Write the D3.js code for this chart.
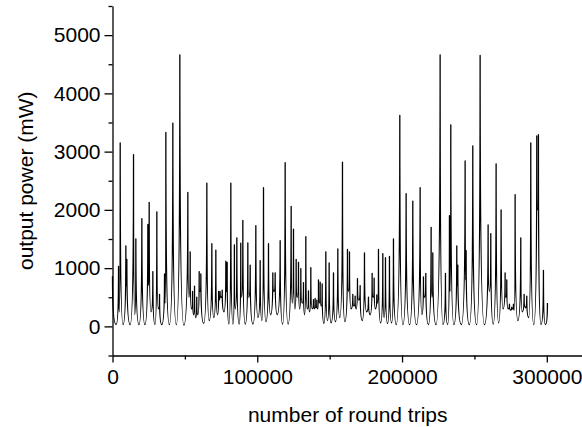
<!DOCTYPE html>
<html>
<head>
<meta charset="utf-8">
<script src="https://cdn.jsdelivr.net/npm/d3@7"></script>
<style>
  html, body { margin: 0; padding: 0; background: #fff; }
  svg { display: block; }
  text { font-family: "Liberation Sans", Arial, sans-serif; fill: #000; }
</style>
</head>
<body>
<svg id="chart" width="582" height="427"></svg>
<script>
// Round trips (x) and output power in mW (y)
const rounds = [
  0, 2500, 4167, 4700, 5318, 7300, 9231, 9600, 9920, 12200,
  14526, 15400, 16137, 18300, 20280, 22400, 24424, 24900, 25345, 26600,
  27877, 29300, 30640, 31600, 32482, 34000, 35934, 36300, 36855, 39300,
  41689, 44100, 46524, 49300, 52048, 52800, 53660, 54500, 55300, 56000,
  56653, 57500, 58200, 59000, 59875, 60400, 61027, 63000, 65170, 66800,
  68624, 70000, 71386, 72500, 73300, 73600, 74300, 75100, 75800, 77000,
  78292, 78700, 79200, 80400, 81745, 83200, 84200, 84800, 85888, 87500,
  88600, 89200, 90032, 91700, 93485, 94100, 95100, 97000, 99010, 100500,
  102003, 103200, 104305, 106000, 107757, 109200, 110750, 111500, 112362, 113800,
  115815, 117500, 119268, 121300, 123412, 124200, 125022, 126000, 126865, 127600,
  128475, 129300, 130090, 131000, 131929, 132700, 133543, 134500, 135380, 136200,
  136995, 137900, 138833, 139400, 139986, 140500, 141139, 141800, 142287, 142900,
  143440, 144100, 144820, 146000, 147355, 148500, 149655, 151000, 152645, 154000,
  155642, 157000, 158860, 160500, 162314, 163000, 163700, 164800, 166001, 166800,
  167600, 168300, 169220, 170100, 171064, 172500, 174054, 175500, 176817, 178000,
  179351, 180000, 180732, 181600, 182576, 183100, 183722, 185200, 186720, 187600,
  188557, 190000, 191319, 192800, 194081, 196000, 198460, 200600, 202831, 205200,
  207438, 210000, 212500, 213700, 214800, 215500, 216416, 218200, 220097, 220700,
  221250, 223500, 226312, 228300, 229993, 231500, 232756, 233100, 233680, 235800,
  237824, 238200, 238515, 241000, 243577, 243900, 244268, 246500, 248874, 251500,
  253936, 256900, 259461, 260300, 261305, 263000, 264986, 266700, 268439, 269800,
  271202, 271700, 272355, 273200, 274193, 275000, 275808, 276400, 276954, 277500,
  278108, 280000, 282024, 283000, 284323, 285200, 286167, 287500, 288930, 291000,
  293073, 293600, 294220, 296000, 297673, 299000, 300435
];
const power = [
  860, 30, 1030, 250, 3150, 30, 1380, 700, 1150, 30,
  2950, 200, 1500, 30, 1850, 30, 1750, 700, 2130, 250,
  940, 30, 1966, 300, 550, 30, 900, 400, 3330, 30,
  3490, 30, 4660, 20, 2300, 500, 1280, 300, 600, 200,
  690, 150, 500, 200, 940, 600, 900, 50, 2460, 100,
  1420, 150, 1310, 200, 600, 450, 600, 500, 620, 250,
  1120, 600, 1100, 40, 2460, 40, 1400, 300, 1520, 40,
  1430, 500, 1820, 40, 1435, 500, 1050, 40, 1730, 150,
  1130, 100, 2380, 80, 1420, 200, 920, 600, 920, 200,
  1470, 40, 2810, 40, 2060, 400, 1670, 300, 1150, 500,
  1100, 300, 990, 400, 750, 200, 1540, 300, 610, 250,
  1010, 300, 460, 300, 480, 320, 450, 300, 800, 400,
  760, 350, 730, 50, 1280, 100, 1090, 60, 920, 80,
  1330, 150, 2820, 80, 1320, 600, 1280, 300, 550, 350,
  520, 300, 820, 450, 700, 100, 1260, 250, 500, 200,
  910, 500, 830, 300, 540, 400, 1320, 60, 1250, 150,
  1180, 50, 1200, 60, 1500, 30, 3620, 30, 2280, 30,
  2150, 30, 2380, 200, 850, 500, 910, 30, 1700, 500,
  1260, 30, 4660, 30, 910, 30, 1900, 600, 3460, 30,
  1380, 700, 1050, 30, 2840, 800, 1300, 30, 3100, 30,
  4650, 30, 1740, 600, 1590, 40, 2790, 60, 2000, 300,
  920, 500, 800, 300, 380, 280, 330, 300, 380, 280,
  2260, 100, 1520, 250, 550, 320, 520, 150, 3150, 30,
  3270, 2000, 3290, 30, 960, 30, 400
];
const xTicks = [0, 100000, 200000, 300000];
const yTicks = [0, 1000, 2000, 3000, 4000, 5000];
const xMinorTicks = [50000, 150000, 250000];
const yMinorTicks = [-500, 500, 1500, 2500, 3500, 4500, 5500];

const data = rounds.map((r, i) => ({ x: r, y: power[i] }));

// Custom D3 curve: flat, rounded troughs and sharp spikes (pulse-train look)
function SpikeCurve(context) { this._context = context; }
SpikeCurve.prototype = {
  areaStart() { this._line = 0; },
  areaEnd() { this._line = NaN; },
  lineStart() { this._point = 0; },
  lineEnd() {},
  point(x, y) {
    x = +x; y = +y;
    const c = this._context;
    if (this._point === 0) {
      c.moveTo(x, y);
      this._point = 1;
    } else {
      const x0 = this._x0, y0 = this._y0, dx = x - x0;
      if (y0 >= y) {
        // rising from lower point (x0,y0) to higher point (x,y)
        c.bezierCurveTo(x0 + 0.6 * dx, y0, x, y0 + 0.3 * (y - y0), x, y);
      } else {
        // falling from higher point (x0,y0) to lower point (x,y)
        c.bezierCurveTo(x0, y + 0.3 * (y0 - y), x - 0.6 * dx, y, x, y);
      }
    }
    this._x0 = x; this._y0 = y;
  }
};
const curveSpike = context => new SpikeCurve(context);

const svg = d3.select("#chart");
const x = d3.scaleLinear().domain([0, 325000]).range([112.5, 583]);
const y = d3.scaleLinear().domain([-500, 5500]).range([355.5, 6]);

const g = svg.append("g");

// data line
const line = d3.line()
  .x(d => x(d.x))
  .y(d => y(d.y))
  .curve(curveSpike);

g.append("path")
  .datum(data)
  .attr("fill", "none")
  .attr("stroke", "#000")
  .attr("stroke-width", 1.3)
  .attr("stroke-linejoin", "round")
  .attr("d", line);

// bottom axis
const xAxis = d3.axisBottom(x)
  .tickValues(xTicks)
  .tickFormat(d3.format("d"))
  .tickSizeInner(7)
  .tickSizeOuter(0)
  .tickPadding(7);
const gx = g.append("g")
  .attr("transform", `translate(0,${y(-500)})`)
  .call(xAxis);
gx.select(".domain").attr("stroke", "#000").attr("stroke-width", 1.3);
gx.selectAll(".tick line").attr("stroke-width", 1.3);
gx.selectAll(".tick text")
  .style("font-size", "21px")
  .style("font-family", "'Liberation Sans', Arial, sans-serif");

const xMinor = d3.axisBottom(x).tickValues(xMinorTicks).tickSize(4).tickFormat("");
const gxm = g.append("g").attr("transform", `translate(0,${y(-500)})`).call(xMinor);
gxm.select(".domain").remove();
gxm.selectAll(".tick line").attr("stroke-width", 1.3);

// left axis
const yAxis = d3.axisLeft(y)
  .tickValues(yTicks)
  .tickFormat(d3.format("d"))
  .tickSizeInner(8)
  .tickSizeOuter(0)
  .tickPadding(4);
const gy = g.append("g")
  .attr("transform", `translate(${x(0)},0)`)
  .call(yAxis);
gy.select(".domain").attr("stroke", "#000").attr("stroke-width", 1.3);
gy.selectAll(".tick line").attr("stroke-width", 1.3);
gy.selectAll(".tick text")
  .style("font-size", "21px")
  .style("font-family", "'Liberation Sans', Arial, sans-serif");

const yMinor = d3.axisLeft(y).tickValues(yMinorTicks).tickSize(4).tickFormat("");
const gym = g.append("g").attr("transform", `translate(${x(0)},0)`).call(yMinor);
gym.select(".domain").remove();
gym.selectAll(".tick line").attr("stroke-width", 1.3);

// axis titles
svg.append("text")
  .attr("x", (x.range()[0] + x.range()[1]) / 2)
  .attr("y", 422)
  .attr("text-anchor", "middle")
  .style("font-size", "21px")
  .text("number of round trips");

svg.append("text")
  .attr("transform", `translate(33,${(y.range()[0] + y.range()[1]) / 2}) rotate(-90)`)
  .attr("text-anchor", "middle")
  .style("font-size", "21px")
  .text("output power (mW)");
</script>
</body>
</html>
